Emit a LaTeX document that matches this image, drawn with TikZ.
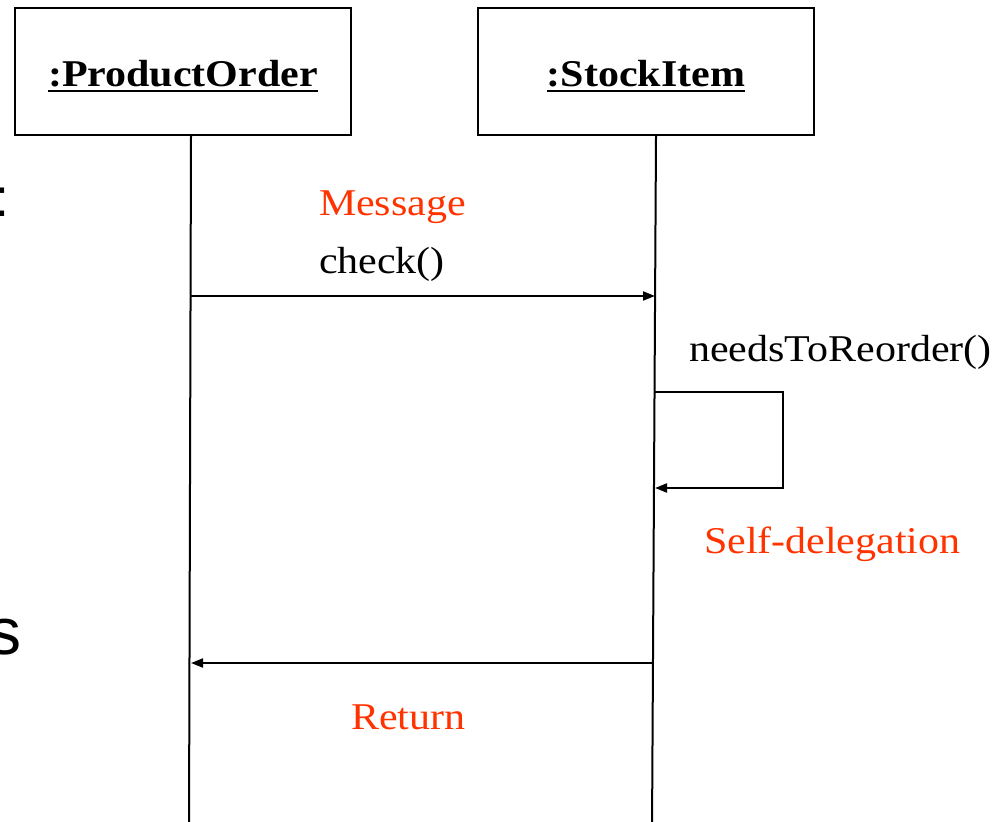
\documentclass[tikz,border=0pt]{standalone}
\usepackage{fontspec}
\setmainfont{Liberation Serif}
\newfontfamily\slidefont{Liberation Sans}
\usepackage{xcolor}
\usepackage{graphicx}
\usepackage{tikz}
\usetikzlibrary{arrows.meta}
\definecolor{msgred}{RGB}{255,51,0}
\newcommand{\objname}[1]{\setbox0\hbox{#1}\rlap{\rule[-3pt]{\wd0}{1.5pt}}\box0}
\newcommand{\squeeze}[1]{\scalebox{1}[0.9]{#1}}

\begin{document}
\begin{tikzpicture}[x=0.5pt,y=-0.5pt,->,>={Triangle[length=6pt,width=4.5pt]},
		line width=1pt,font=\fontsize{21}{25}\selectfont]
		\tikzstyle{object}=[draw,minimum width=168pt,minimum height=63.5pt,inner sep=0pt,
			text height=15.5pt,text depth=0pt,font=\fontsize{21}{25}\selectfont\bfseries]
		\tikzstyle{msglabel}=[anchor=base west,inner sep=0pt]
		\tikzstyle{msgnote}=[msglabel,text=msgred]
		\tikzstyle{cut}=[anchor=base west,inner sep=0pt]
		
		\useasboundingbox (0,0) rectangle (999,822);
		\clip (0,0) rectangle (999,822);
		
		% cut off slide text at the left edge
		\node[cut,font=\slidefont\fontsize{27}{30}\selectfont] (cutColon) at (-6,217) {:};
		\node[cut,font=\slidefont\fontsize{33}{36}\selectfont] (cutS) at (-12,654) {s};
		
		\node[object] (po) at (183,71.5) {\squeeze{\objname{:ProductOrder}}};
		\node[object] (si) at (646,71.5) {\squeeze{\objname{:StockItem}}};
		
		\coordinate (poEnd) at (189,830);
		\coordinate (siEnd) at (652,830);
		\draw[-] ([xshift=4pt]po.south) -- (poEnd);
		\draw[-] ([xshift=5pt]si.south) -- (siEnd);
		
		\coordinate (checkFrom) at (191,296);
		\coordinate (checkTo)   at (655,296);
		\coordinate (selfFrom)  at (655,392);
		\coordinate (selfTo)    at (655,488);
		\coordinate (retFrom)   at (654,663);
		\coordinate (retTo)     at (191,663);
		
		\draw (checkFrom) -- (checkTo);
		\draw (selfFrom) -- ++(128,0) |- (selfTo);
		\draw (retFrom) -- (retTo);
		
		\node[msgnote]  (msgText)     at (318,216) {\squeeze{Message}};
		\node[msglabel] (checkText)   at (318,274) {\squeeze{check()}};
		\node[msglabel] (reorderText) at (688,362) {\squeeze{needsToReorder()}};
		\node[msgnote]  (selfText)    at (703,553) {\squeeze{Self-delegation}};
		\node[msgnote]  (retText)     at (350,729) {\squeeze{Return}};
		
\end{tikzpicture}
\end{document}
